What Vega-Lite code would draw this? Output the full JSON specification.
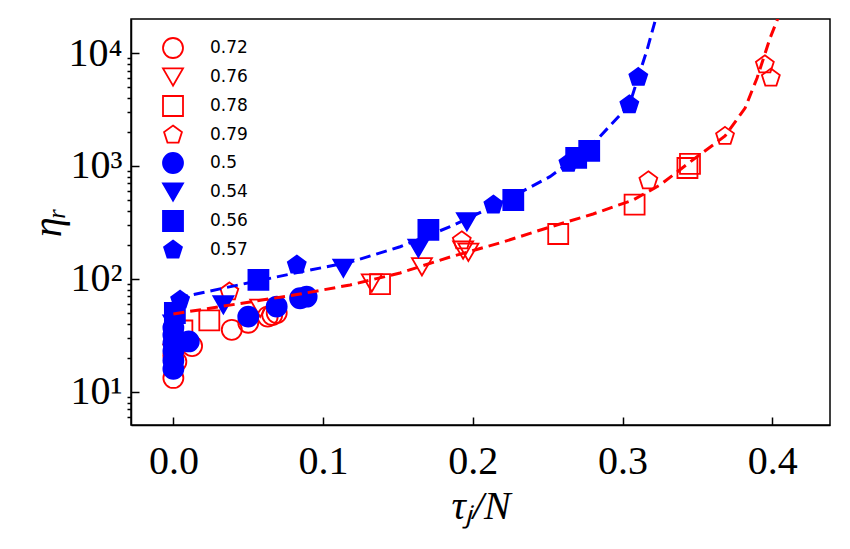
{
  "$schema": "https://vega.github.io/schema/vega-lite/v6.json",
  "width": 699,
  "height": 406,
  "autosize": {"type": "none"},
  "padding": {"left": 131, "top": 19, "right": 20, "bottom": 124},
  "background": "white",
  "config": {
    "view": {"stroke": "black", "strokeWidth": 1.5},
    "axis": {
      "domainColor": "black", "domainWidth": 1.5,
      "tickColor": "black", "tickWidth": 1.5,
      "labelFont": "Liberation Serif", "labelFontSize": 40, "labelColor": "black",
      "titleFont": "Liberation Serif", "titleFontSize": 40, "titleFontWeight": "normal", "titleColor": "black",
      "grid": false, "labelFlush": false, "labelOverlap": false
    }
  },
  "datasets": {
    "points": [
      {"series": "0.72", "x": 0, "y": 13.3},
      {"series": "0.72", "x": 0.002, "y": 18.5},
      {"series": "0.72", "x": 0, "y": 21},
      {"series": "0.72", "x": 0.0125, "y": 25.5},
      {"series": "0.72", "x": 0.039, "y": 35.5},
      {"series": "0.72", "x": 0.050, "y": 41},
      {"series": "0.72", "x": 0.063, "y": 46.5},
      {"series": "0.72", "x": 0.066, "y": 48},
      {"series": "0.72", "x": 0.069, "y": 50},
      {"series": "0.76", "x": 0, "y": 22},
      {"series": "0.76", "x": 0.058, "y": 55},
      {"series": "0.76", "x": 0.1325, "y": 92},
      {"series": "0.76", "x": 0.166, "y": 128},
      {"series": "0.76", "x": 0.1935, "y": 180},
      {"series": "0.76", "x": 0.197, "y": 172},
      {"series": "0.78", "x": 0.006, "y": 35},
      {"series": "0.78", "x": 0.024, "y": 43},
      {"series": "0.78", "x": 0.138, "y": 90},
      {"series": "0.78", "x": 0.257, "y": 250},
      {"series": "0.78", "x": 0.308, "y": 455},
      {"series": "0.78", "x": 0.3433, "y": 960},
      {"series": "0.78", "x": 0.345, "y": 1046},
      {"series": "0.79", "x": 0.0374, "y": 77},
      {"series": "0.79", "x": 0.1926, "y": 218},
      {"series": "0.79", "x": 0.3172, "y": 741},
      {"series": "0.79", "x": 0.3684, "y": 1833},
      {"series": "0.79", "x": 0.395, "y": 7880},
      {"series": "0.79", "x": 0.399, "y": 6010},
      {"series": "0.5", "x": 0, "y": 16},
      {"series": "0.5", "x": 0, "y": 19},
      {"series": "0.5", "x": 0, "y": 23},
      {"series": "0.5", "x": 0, "y": 27},
      {"series": "0.5", "x": 0, "y": 32},
      {"series": "0.5", "x": 0, "y": 37},
      {"series": "0.5", "x": 0.0103, "y": 28},
      {"series": "0.5", "x": 0.050, "y": 46.4},
      {"series": "0.5", "x": 0.069, "y": 57},
      {"series": "0.5", "x": 0.0846, "y": 67.5},
      {"series": "0.5", "x": 0.089, "y": 69.7},
      {"series": "0.54", "x": 0, "y": 40},
      {"series": "0.54", "x": 0.0334, "y": 59},
      {"series": "0.54", "x": 0.1135, "y": 124.5},
      {"series": "0.54", "x": 0.1636, "y": 187},
      {"series": "0.54", "x": 0.196, "y": 321},
      {"series": "0.56", "x": 0.001, "y": 50},
      {"series": "0.56", "x": 0.0568, "y": 98},
      {"series": "0.56", "x": 0.1703, "y": 272},
      {"series": "0.56", "x": 0.227, "y": 500},
      {"series": "0.56", "x": 0.269, "y": 1180},
      {"series": "0.56", "x": 0.2777, "y": 1360},
      {"series": "0.57", "x": 0.0045, "y": 65},
      {"series": "0.57", "x": 0.0824, "y": 133},
      {"series": "0.57", "x": 0.2137, "y": 452},
      {"series": "0.57", "x": 0.2638, "y": 1056},
      {"series": "0.57", "x": 0.3045, "y": 3490},
      {"series": "0.57", "x": 0.3105, "y": 6100}
    ],
    "curves": [
      {"fit": "red", "x": 0, "y": 49},
      {"fit": "red", "x": 0.0512, "y": 62.6},
      {"fit": "red", "x": 0.0846, "y": 73.6},
      {"fit": "red", "x": 0.118, "y": 88.5},
      {"fit": "red", "x": 0.1514, "y": 113},
      {"fit": "red", "x": 0.1848, "y": 156.6},
      {"fit": "red", "x": 0.2181, "y": 208.4},
      {"fit": "red", "x": 0.2515, "y": 288.4},
      {"fit": "red", "x": 0.2803, "y": 376},
      {"fit": "red", "x": 0.307, "y": 500},
      {"fit": "red", "x": 0.325, "y": 679},
      {"fit": "red", "x": 0.345, "y": 1084},
      {"fit": "red", "x": 0.3684, "y": 1842},
      {"fit": "red", "x": 0.3818, "y": 3260},
      {"fit": "red", "x": 0.3898, "y": 6010},
      {"fit": "red", "x": 0.3985, "y": 13580},
      {"fit": "red", "x": 0.4038, "y": 20400},
      {"fit": "blue", "x": 0.0025, "y": 67.9},
      {"fit": "blue", "x": 0.0513, "y": 93.1},
      {"fit": "blue", "x": 0.0846, "y": 115.3},
      {"fit": "blue", "x": 0.118, "y": 141},
      {"fit": "blue", "x": 0.1514, "y": 193},
      {"fit": "blue", "x": 0.1848, "y": 290},
      {"fit": "blue", "x": 0.2181, "y": 468},
      {"fit": "blue", "x": 0.2515, "y": 804},
      {"fit": "blue", "x": 0.2783, "y": 1472},
      {"fit": "blue", "x": 0.3045, "y": 3467},
      {"fit": "blue", "x": 0.3105, "y": 6140},
      {"fit": "blue", "x": 0.3163, "y": 10630},
      {"fit": "blue", "x": 0.3217, "y": 19190},
      {"fit": "blue", "x": 0.3223, "y": 20400}
    ]
  },
  "layer": [
    {
      "data": {"name": "points"},
      "mark": {"type": "point", "size": 400, "strokeWidth": 1.8, "opacity": 1, "fillOpacity": 1, "strokeOpacity": 1},
      "encoding": {
        "x": {
          "field": "x", "type": "quantitative",
          "scale": {"domain": [-0.0283, 0.4385], "nice": false, "zero": false},
          "axis": {"values": [0, 0.1, 0.2, 0.3, 0.4], "format": ".1f", "tickSize": -8, "labelPadding": 24, "title": "τⱼ/N", "titleFontStyle": "italic", "titlePadding": 5}
        },
        "y": {
          "field": "y", "type": "quantitative",
          "scale": {"type": "log", "domain": [5.1, 20000], "nice": false},
          "axis": {
            "values": [6, 7, 8, 9, 10, 20, 30, 40, 50, 60, 70, 80, 90, 100, 200, 300, 400, 500, 600, 700, 800, 900, 1000, 2000, 3000, 4000, 5000, 6000, 7000, 8000, 9000, 10000],
            "labelExpr": "datum.value==10?'10¹':datum.value==100?'10²':datum.value==1000?'10³':datum.value==10000?'10⁴':''",
            "tickSize": {"condition": {"test": "datum.value==10||datum.value==100||datum.value==1000||datum.value==10000", "value": -8}, "value": 4},
            "labelPadding": 17,
            "title": "ηᵣ", "titleFontStyle": "italic", "titlePadding": 0
          }
        },
        "shape": {
          "field": "series", "type": "nominal",
          "scale": {
            "domain": ["0.72", "0.76", "0.78", "0.79", "0.5", "0.54", "0.56", "0.57"],
            "range": ["circle", "triangle-down", "square", "M0,-0.94L0.894,-0.29L0.553,0.76L-0.553,0.76L-0.894,-0.29Z", "circle", "triangle-down", "square", "M0,-0.94L0.894,-0.29L0.553,0.76L-0.553,0.76L-0.894,-0.29Z"]
          },
          "legend": {"orient": "none", "legendX": 31, "legendY": 18, "title": null, "padding": 0, "rowPadding": 2, "symbolSize": 400, "symbolStrokeWidth": 1.8, "symbolOpacity": 1, "labelFont": "DejaVu Sans", "labelFontSize": 17, "labelColor": "black", "labelOffset": 26}
        },
        "stroke": {
          "field": "series", "type": "nominal",
          "scale": {
            "domain": ["0.72", "0.76", "0.78", "0.79", "0.5", "0.54", "0.56", "0.57"],
            "range": ["#ff0000", "#ff0000", "#ff0000", "#ff0000", "#0000ff", "#0000ff", "#0000ff", "#0000ff"]
          },
          "legend": {"orient": "none", "legendX": 31, "legendY": 18, "title": null, "padding": 0, "rowPadding": 2, "symbolSize": 400, "symbolStrokeWidth": 1.8, "symbolOpacity": 1, "labelFont": "DejaVu Sans", "labelFontSize": 17, "labelColor": "black", "labelOffset": 26}
        },
        "fill": {
          "field": "series", "type": "nominal",
          "scale": {
            "domain": ["0.72", "0.76", "0.78", "0.79", "0.5", "0.54", "0.56", "0.57"],
            "range": ["transparent", "transparent", "transparent", "transparent", "#0000ff", "#0000ff", "#0000ff", "#0000ff"]
          },
          "legend": {"orient": "none", "legendX": 31, "legendY": 18, "title": null, "padding": 0, "rowPadding": 2, "symbolSize": 400, "symbolStrokeWidth": 1.8, "symbolOpacity": 1, "labelFont": "DejaVu Sans", "labelFontSize": 17, "labelColor": "black", "labelOffset": 26}
        }
      }
    },
    {
      "data": {"name": "curves"},
      "transform": [{"filter": "datum.fit == 'red'"}],
      "mark": {"type": "line", "color": "#ff0000", "strokeWidth": 3, "strokeDash": [11, 6], "clip": true},
      "encoding": {
        "x": {"field": "x", "type": "quantitative", "scale": {"domain": [-0.0283, 0.4385], "nice": false, "zero": false}},
        "y": {"field": "y", "type": "quantitative", "scale": {"type": "log", "domain": [5.1, 20000], "nice": false}}
      }
    },
    {
      "data": {"name": "curves"},
      "transform": [{"filter": "datum.fit == 'blue'"}],
      "mark": {"type": "line", "color": "#0000ff", "strokeWidth": 3, "strokeDash": [11, 6], "clip": true},
      "encoding": {
        "x": {"field": "x", "type": "quantitative", "scale": {"domain": [-0.0283, 0.4385], "nice": false, "zero": false}},
        "y": {"field": "y", "type": "quantitative", "scale": {"type": "log", "domain": [5.1, 20000], "nice": false}}
      }
    }
  ]
}
